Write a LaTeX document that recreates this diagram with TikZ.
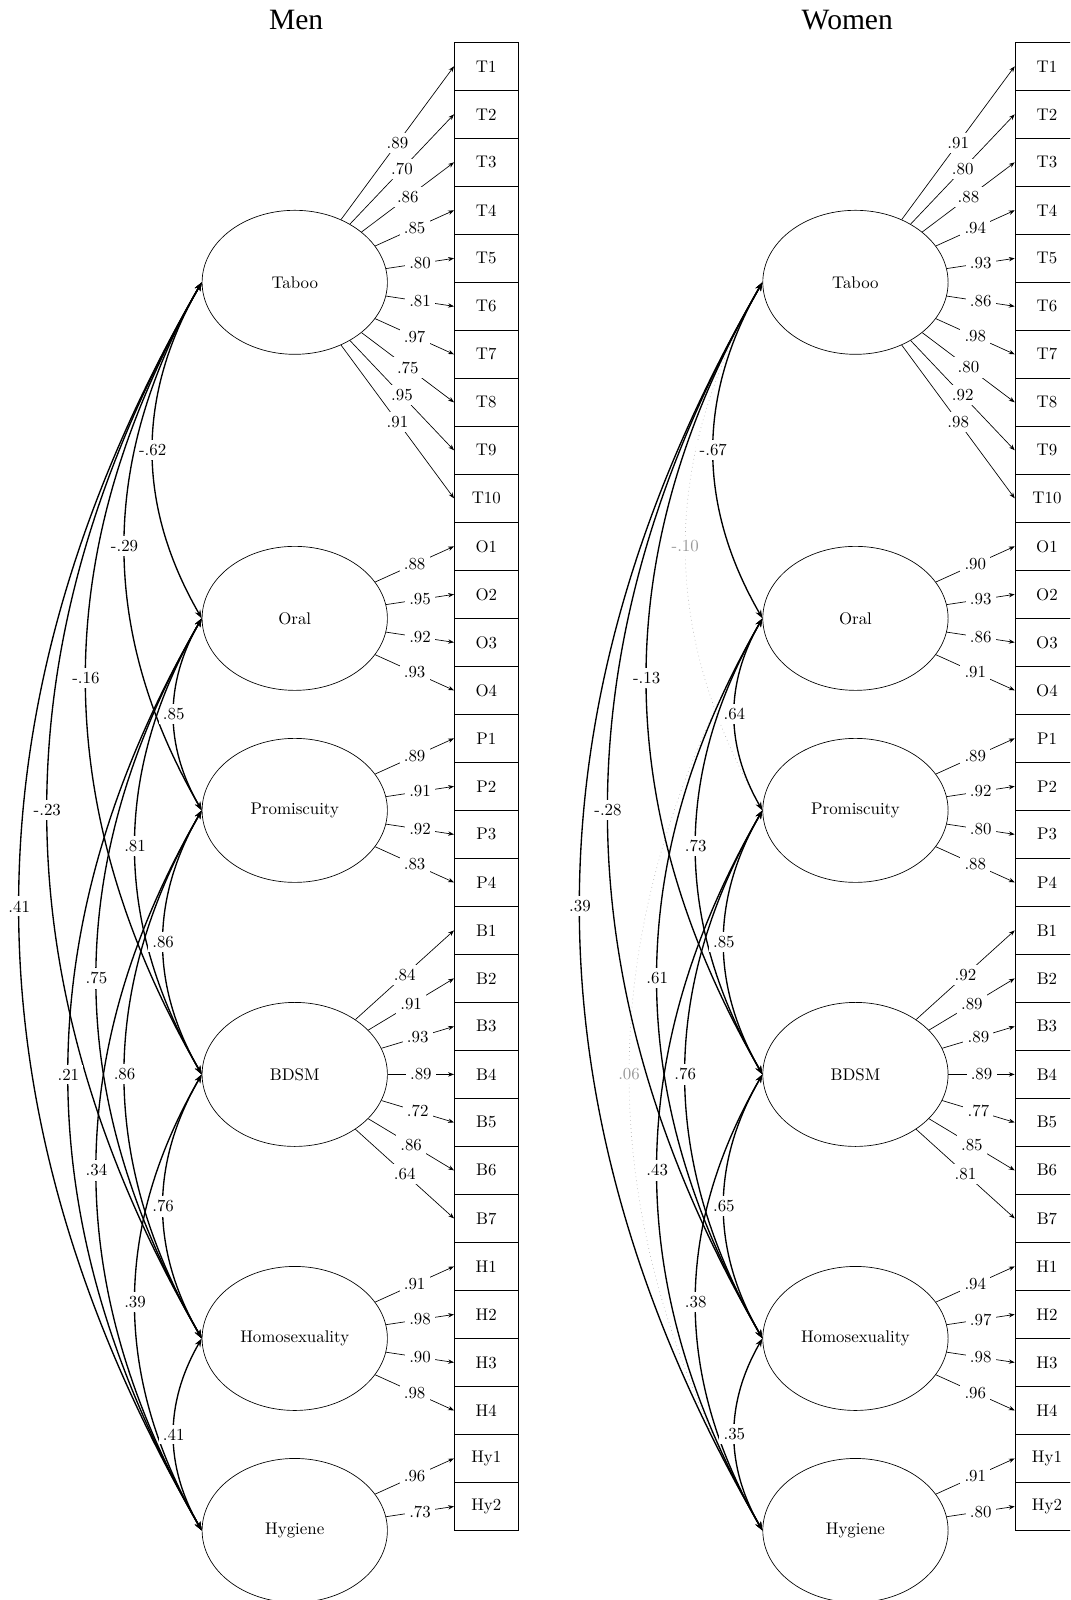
\documentclass[tikz,border=0pt]{standalone}
\usepackage{fontspec}
\usetikzlibrary{shapes.geometric,arrows.meta}
\newfontfamily\titlefont{Liberation Serif}

\tikzset{
  item/.style={draw, minimum width=1.33cm, minimum height=1cm, inner sep=0pt},
  factor/.style={draw, ellipse, minimum width=3.86cm, minimum height=3cm, inner sep=0pt},
  load/.style={thin, -{Stealth[length=3.5pt,width=2.6pt]}},
  cov/.style={thick, {Stealth[length=5pt,width=3.6pt]}-{Stealth[length=5pt,width=3.6pt]}},
  nscov/.style={thin, dotted, gray!60},
  val/.style={fill=white, inner sep=2.5pt},
  nsval/.style={val, text=gray!80},
  heading/.style={anchor=base, font=\titlefont\fontsize{17.5}{21}\selectfont},
}

\begin{document}
\begin{tikzpicture}
\useasboundingbox (0,0) rectangle (22.29,-33.33);
\clip (0,0) rectangle (22.29,-33.33);

% Men
\node[heading] (mtitle) at (6.17,-0.61) {Men};
\foreach \lab [count=\i from 0] in {T1,T2,T3,T4,T5,T6,T7,T8,T9,T10,O1,O2,O3,O4,P1,P2,P3,P4,B1,B2,B3,B4,B5,B6,B7,H1,H2,H3,H4,Hy1,Hy2}
  \node[item] (m\lab) at (10.13,-1.381-\i) {\lab};
\node[factor] (mTaboo) at (6.14,-5.881) {Taboo};
\node[factor] (mOral) at (6.14,-12.881) {Oral};
\node[factor] (mProm) at (6.14,-16.881) {Promiscuity};
\node[factor] (mBDSM) at (6.14,-22.381) {BDSM};
\node[factor] (mHomo) at (6.14,-27.881) {Homosexuality};
\node[factor] (mHyg) at (6.14,-31.881) {Hygiene};

% loadings
\foreach \f/\lab/\v in {Taboo/T1/.89, Taboo/T2/.70, Taboo/T3/.86, Taboo/T4/.85, Taboo/T5/.80,
    Taboo/T6/.81, Taboo/T7/.97, Taboo/T8/.75, Taboo/T9/.95, Taboo/T10/.91,
    Oral/O1/.88, Oral/O2/.95, Oral/O3/.92, Oral/O4/.93,
    Prom/P1/.89, Prom/P2/.91, Prom/P3/.92, Prom/P4/.83,
    BDSM/B1/.84, BDSM/B2/.91, BDSM/B3/.93, BDSM/B4/.89, BDSM/B5/.72, BDSM/B6/.86, BDSM/B7/.64,
    Homo/H1/.91, Homo/H2/.98, Homo/H3/.90, Homo/H4/.98,
    Hyg/Hy1/.96, Hyg/Hy2/.73}
  \draw[load] (m\f) -- node[val] {\v} (m\lab.west);

% covariances
\foreach \a/\b/\v in {Taboo/Oral/-.62, Taboo/Prom/-.29, Taboo/BDSM/-.16, Taboo/Homo/-.23, Taboo/Hyg/.41,
    Oral/Prom/.85, Oral/BDSM/.81, Oral/Homo/.75, Oral/Hyg/.21,
    Prom/BDSM/.86, Prom/Homo/.86, Prom/Hyg/.34,
    BDSM/Homo/.76, BDSM/Hyg/.39, Homo/Hyg/.41}
  \draw[cov] (m\a.west) to[bend right=30] node[val] {\v} (m\b.west);

% Women
\node[heading] (wtitle) at (17.65,-0.61) {Women};
\foreach \lab [count=\i from 0] in {T1,T2,T3,T4,T5,T6,T7,T8,T9,T10,O1,O2,O3,O4,P1,P2,P3,P4,B1,B2,B3,B4,B5,B6,B7,H1,H2,H3,H4,Hy1,Hy2}
  \node[item] (w\lab) at (21.81,-1.381-\i) {\lab};
\node[factor] (wTaboo) at (17.82,-5.881) {Taboo};
\node[factor] (wOral) at (17.82,-12.881) {Oral};
\node[factor] (wProm) at (17.82,-16.881) {Promiscuity};
\node[factor] (wBDSM) at (17.82,-22.381) {BDSM};
\node[factor] (wHomo) at (17.82,-27.881) {Homosexuality};
\node[factor] (wHyg) at (17.82,-31.881) {Hygiene};

% loadings
\foreach \f/\lab/\v in {Taboo/T1/.91, Taboo/T2/.80, Taboo/T3/.88, Taboo/T4/.94, Taboo/T5/.93,
    Taboo/T6/.86, Taboo/T7/.98, Taboo/T8/.80, Taboo/T9/.92, Taboo/T10/.98,
    Oral/O1/.90, Oral/O2/.93, Oral/O3/.86, Oral/O4/.91,
    Prom/P1/.89, Prom/P2/.92, Prom/P3/.80, Prom/P4/.88,
    BDSM/B1/.92, BDSM/B2/.89, BDSM/B3/.89, BDSM/B4/.89, BDSM/B5/.77, BDSM/B6/.85, BDSM/B7/.81,
    Homo/H1/.94, Homo/H2/.97, Homo/H3/.98, Homo/H4/.96,
    Hyg/Hy1/.91, Hyg/Hy2/.80}
  \draw[load] (w\f) -- node[val] {\v} (w\lab.west);

% covariances (n.s. ones dotted)
\draw[nscov] (wTaboo.west) to[bend right=30] node[nsval] {-.10} (wProm.west);
\draw[nscov] (wOral.west) to[bend right=30] node[nsval] {.06} (wHyg.west);
\foreach \a/\b/\v in {Taboo/Oral/-.67, Taboo/BDSM/-.13, Taboo/Homo/-.28, Taboo/Hyg/.39,
    Oral/Prom/.64, Oral/BDSM/.73, Oral/Homo/.61,
    Prom/BDSM/.85, Prom/Homo/.76, Prom/Hyg/.43,
    BDSM/Homo/.65, BDSM/Hyg/.38, Homo/Hyg/.35}
  \draw[cov] (w\a.west) to[bend right=30] node[val] {\v} (w\b.west);
\end{tikzpicture}
\end{document}
